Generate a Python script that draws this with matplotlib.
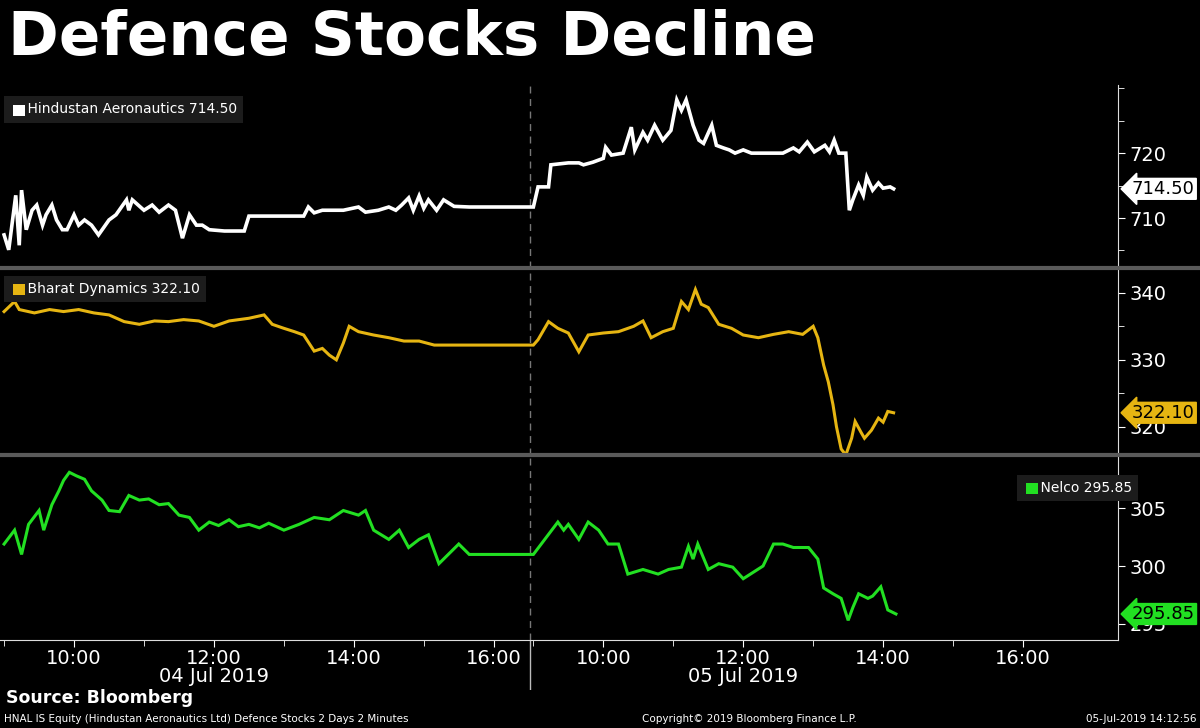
import matplotlib
matplotlib.use("Agg")
import matplotlib.pyplot as plt
from matplotlib.patches import Rectangle
import numpy as np

# minutes after 09:00 for each trading day
hal_d1_t = [0,4,10,13,15,19,24,28,33,36,41,45,50,54,60,64,69,75,81,90,96,105,107,110,120,127,133,141,147,153,159,165,170,176,189,206,210,257,261,266,273,291,304,310,321,330,336,341,347,351,356,360,364,371,377,386,399,429,454]
hal_d1_v = [707.4,705.1,713.5,705.8,714.3,708.2,711.2,712.0,708.9,710.5,712.0,709.7,708.2,708.2,710.5,708.9,709.7,708.9,707.4,709.7,710.5,712.8,711.2,712.8,711.2,712.0,710.9,712.0,711.2,706.9,710.5,708.9,708.9,708.2,708.0,708.0,710.3,710.3,711.7,710.8,711.2,711.2,711.7,710.9,711.2,711.7,711.2,712.0,713.1,711.2,713.4,711.5,712.8,711.2,712.8,711.8,711.7,711.7,711.7]
hal_d2_t = [0,4,13,15,30,39,43,51,60,62,67,77,84,87,94,98,104,111,118,123,127,131,137,142,146,153,157,163,168,173,180,187,214,223,228,235,241,250,254,258,262,268,271,274,279,283,286,291,296,300,306,309]
hal_d2_v = [711.7,714.8,714.8,718.2,718.5,718.5,718.2,718.6,719.2,720.9,719.7,720.0,724.0,720.5,723.2,722.0,724.3,722.0,723.5,728.2,726.6,728.2,724.3,722.0,721.5,724.3,721.2,720.8,720.5,720.0,720.5,720.0,720.0,720.8,720.2,721.7,720.2,721.2,720.2,722.0,720.0,720.0,711.2,712.8,715.1,713.5,716.3,714.3,715.4,714.6,714.8,714.5]

bdl_d1_t = [0,9,13,26,39,51,64,77,90,103,116,129,141,154,167,180,193,210,223,230,240,249,257,266,273,279,285,291,296,304,317,330,343,356,369,386,411,454]
bdl_d1_v = [337.2,338.7,337.5,337.0,337.5,337.2,337.5,337.0,336.7,335.7,335.3,335.8,335.7,336.0,335.8,335.0,335.8,336.2,336.7,335.3,334.7,334.2,333.7,331.3,331.7,330.7,330.0,332.5,335.0,334.2,333.7,333.3,332.8,332.8,332.2,332.2,332.2,332.2]
bdl_d2_t = [0,4,13,21,30,39,47,60,73,86,94,101,111,120,127,133,139,144,150,159,170,180,193,206,219,231,240,244,249,253,257,260,264,268,273,276,281,284,290,296,300,304,309]
bdl_d2_v = [332.2,333.0,335.7,334.7,334.0,331.2,333.7,334.0,334.2,335.0,335.8,333.3,334.2,334.7,338.7,337.5,340.5,338.3,337.8,335.3,334.7,333.7,333.3,333.8,334.2,333.8,335.0,333.3,329.2,326.7,323.3,320.0,316.7,315.8,318.3,320.8,319.2,318.3,319.5,321.3,320.7,322.3,322.1]

nel_d1_t = [0,9,15,21,30,34,41,47,51,56,62,69,75,84,90,99,107,116,124,133,141,150,159,167,176,184,193,201,210,219,227,240,253,266,279,291,304,310,317,330,339,347,356,364,373,381,390,399,411,454]
nel_d1_v = [301.9,303.1,301.0,303.6,304.8,303.1,305.3,306.5,307.4,308.1,307.8,307.5,306.5,305.7,304.8,304.7,306.1,305.7,305.8,305.3,305.4,304.4,304.2,303.1,303.8,303.5,304.0,303.4,303.6,303.3,303.7,303.1,303.6,304.2,304.0,304.8,304.4,304.8,303.1,302.3,303.1,301.6,302.3,302.7,300.2,301.0,301.9,301.0,301.0,301.0]
nel_d2_t = [0,21,26,30,39,47,56,64,73,81,94,107,116,127,133,137,141,150,159,171,180,197,206,214,223,236,244,249,257,264,270,274,279,287,291,298,304,311]
nel_d2_v = [301.0,303.8,303.1,303.6,302.3,303.8,303.1,301.9,301.9,299.3,299.7,299.3,299.7,299.9,301.7,300.6,301.9,299.7,300.2,299.9,298.9,300.0,301.9,301.9,301.6,301.6,300.6,298.1,297.6,297.2,295.3,296.4,297.6,297.2,297.4,298.2,296.2,295.85]

SESSION = 454  # minutes shown per day (09:00 - 16:34)
OFF = 2.5
def pos(t, day):
    return np.asarray(t, float) + OFF + day * SESSION

BG = "black"
fig = plt.figure(figsize=(12, 7.28), dpi=100, facecolor=BG)
X0, X1 = -1, 958
W = 0.9317

def mk(bottom_px, top_px):
    ax = fig.add_axes([0, 1 - bottom_px / 728, W, (bottom_px - top_px) / 728])
    ax.set_facecolor(BG)
    ax.set_xlim(X0, X1)
    for s in ["top", "left", "bottom"]:
        ax.spines[s].set_visible(False)
    ax.spines["right"].set_color("#dddddd")
    ax.yaxis.tick_right()
    ax.tick_params(axis="y", colors="white", labelsize=14, length=5, direction="out", pad=3)
    ax.set_xticks([])
    ax.axvline(SESSION, color="#777777", ls=(0, (5, 4)), lw=1)
    return ax

ax1 = mk(268, 85)
ax2 = mk(455, 268)
ax3 = mk(640, 455)

def draw(ax, d1t, d1v, d2t, d2v, color, lw):
    ax.plot(np.concatenate([pos(d1t, 0), pos(d2t, 1)]), d1v + d2v, color=color, lw=lw, solid_joinstyle="miter")

WHITE, YEL, GRN = "#ffffff", "#e6b512", "#22e022"
draw(ax1, hal_d1_t, hal_d1_v, hal_d2_t, hal_d2_v, WHITE, 2.6)
draw(ax2, bdl_d1_t, bdl_d1_v, bdl_d2_t, bdl_d2_v, YEL, 2.2)
draw(ax3, nel_d1_t, nel_d1_v, nel_d2_t, nel_d2_v, GRN, 2.2)

ax1.set_ylim(702.3, 730.5); ax1.set_yticks([710, 720]); ax1.set_yticks([705, 715, 725, 730], minor=True)
ax2.set_ylim(315.8, 343.7); ax2.set_yticks([320, 330, 340]); ax2.set_yticks([325, 335], minor=True)
ax3.set_ylim(293.6, 309.6); ax3.set_yticks([295, 300, 305])
for ax in (ax1, ax2, ax3):
    ax.tick_params(axis="y", which="minor", colors="white", length=4)

def last_label(ax, v, txt, fc):
    ax.annotate(txt, xy=(1.0, v), xycoords=("axes fraction", "data"), xytext=(10, 0),
                textcoords="offset points", va="center", ha="left", fontsize=13, color="black",
                bbox=dict(boxstyle="larrow,pad=0.08", fc=fc, ec=fc), annotation_clip=False, zorder=5)
last_label(ax1, 714.5, "714.50", WHITE)
last_label(ax2, 322.1, "322.10", YEL)
last_label(ax3, 295.85, "295.85", GRN)

def legend(ax, x, y, txt, color):
    ax.text(x, y, "    " + txt, transform=ax.transAxes, fontsize=10, color="white", va="top",
            ha="left", bbox=dict(boxstyle="square,pad=0.45", fc="#1c1c1c", ec="none"))
    ax.add_patch(Rectangle((x + 0.003, y - 0.072), 0.0105, 0.06, transform=ax.transAxes,
                           fc=color, ec="none", zorder=5))
legend(ax1, 0.009, 0.905, "Hindustan Aeronautics 714.50", WHITE)
legend(ax2, 0.009, 0.925, "Bharat Dynamics 322.10", YEL)
legend(ax3, 0.915, 0.86, "Nelco 295.85", GRN)

# separators
for ypx in (268, 455):
    fig.add_artist(plt.Line2D([0, 1], [1 - ypx / 728] * 2, color="#5a5a5a", lw=3))

# x axis area
axx = fig.add_axes([0, 1 - 690 / 728, W, 50 / 728])
axx.set_facecolor(BG)
axx.set_xlim(X0, X1); axx.set_ylim(0, 1)
for s in axx.spines.values():
    s.set_visible(False)
axx.spines["top"].set_visible(True); axx.spines["top"].set_color("#dddddd")
axx.set_yticks([])
hours = [10, 12, 14, 16]
ticks = [pos((h - 9) * 60, d) for d in (0, 1) for h in hours]
axx.set_xticks(ticks)
axx.set_xticklabels([f"{h}:00" for d in (0, 1) for h in hours])
axx.xaxis.tick_top()
axx.tick_params(axis="x", colors="white", labelsize=14, direction="in", length=5, pad=-20)
minor = [pos((h - 9) * 60, d) for d in (0, 1) for h in (9, 11, 13, 15)]
axx.set_xticks(minor, minor=True)
axx.tick_params(axis="x", which="minor", colors="white", direction="in", length=4, top=True)
axx.axvline(SESSION, color="#bbbbbb", lw=1)
axx.text(pos(180, 0), 0.15, "04 Jul 2019", color="white", fontsize=14, ha="center")
axx.text(pos(180, 1), 0.15, "05 Jul 2019", color="white", fontsize=14, ha="center")

fig.text(0.007, 0.988, "Defence Stocks Decline", color="white", fontsize=44, fontweight="bold",
         va="top", ha="left", family="DejaVu Sans")
fig.text(0.005, 1 - 698 / 728, "Source: Bloomberg", color="white", fontsize=12.5, fontweight="bold", va="center")
fig.text(0.003, 1 - 719 / 728, "HNAL IS Equity (Hindustan Aeronautics Ltd) Defence Stocks 2 Days 2 Minutes",
         color="white", fontsize=7.5, va="center")
fig.text(0.535, 1 - 719 / 728, "Copyright\u00a9 2019 Bloomberg Finance L.P.", color="white", fontsize=7.5, va="center")
fig.text(0.997, 1 - 719 / 728, "05-Jul-2019 14:12:56", color="white", fontsize=7.5, va="center", ha="right")

fig.savefig("out.png", dpi=100, facecolor=BG)
